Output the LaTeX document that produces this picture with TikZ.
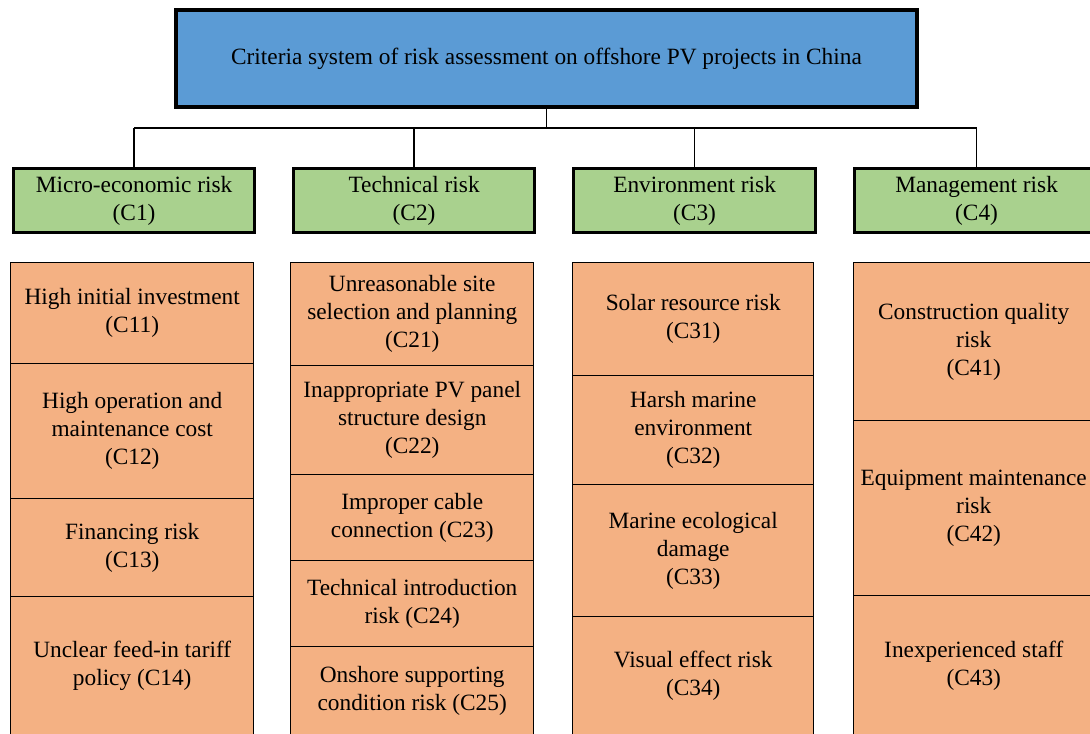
\documentclass[tikz,border=0pt]{standalone}
\usepackage{fontspec}
\setmainfont{Liberation Serif}
\definecolor{topblue}{HTML}{5B9BD5}
\definecolor{catgreen}{HTML}{A9D18E}
\definecolor{itemorange}{HTML}{F4B183}
\tikzset{
  x=0.75pt, y=-0.75pt,
  box/.style={draw=black, anchor=north west, align=center, inner sep=0pt,
    font=\fontsize{17.5}{21}\selectfont},
  topbox/.style={box, fill=topblue, line width=3pt},
  catbox/.style={box, fill=catgreen, line width=2.4pt},
  itembox/.style={box, fill=itemorange, line width=1.1pt},
  conn/.style={draw=black, line width=1.1pt}
}
\newcommand{\mkbox}[7]{%
  \node[#1, minimum width={(#5-#3)*0.75pt}, minimum height={(#6-#4)*0.75pt}]
    (#2) at (#3,#4) {#7};}
\begin{document}
\begin{tikzpicture}
\useasboundingbox (0,0) rectangle (1090,733);
\clip (0,0) rectangle (1090,733);
% title
\mkbox{topbox}{title}{174}{8}{915}{105}{Criteria system of risk assessment on offshore PV projects in China}
% categories
\mkbox{catbox}{c1}{12}{167}{253}{231}{Micro-economic risk\\(C1)}
\mkbox{catbox}{c2}{292}{167}{533}{231}{Technical risk\\(C2)}
\mkbox{catbox}{c3}{572}{167}{814}{231}{Environment risk\\(C3)}
\mkbox{catbox}{c4}{853}{167}{1097}{231}{Management risk\\(C4)}
% connectors
\coordinate (bar) at (0,128);
\draw[conn] (title.south) -- (title.south |- bar);
\draw[conn] (c1.north |- bar) -- (c4.north |- bar);
\draw[conn] (c1.north |- bar) -- (c1.north);
\draw[conn] (c2.north |- bar) -- (c2.north);
\draw[conn] (c3.north |- bar) -- (c3.north);
\draw[conn] (c4.north |- bar) -- (c4.north);
% column 1
\mkbox{itembox}{c11}{10}{262}{253}{363}{High initial investment\\(C11)}
\mkbox{itembox}{c12}{10}{363}{253}{498}{High operation and\\maintenance cost\\(C12)}
\mkbox{itembox}{c13}{10}{498}{253}{596}{Financing risk\\(C13)}
\mkbox{itembox}{c14}{10}{596}{253}{735}{Unclear feed-in tariff\\policy (C14)}
% column 2
\mkbox{itembox}{c21}{290}{262}{533}{365}{Unreasonable site\\selection and planning\\(C21)}
\mkbox{itembox}{c22}{290}{365}{533}{474}{Inappropriate PV panel\\structure design\\(C22)}
\mkbox{itembox}{c23}{290}{474}{533}{560}{Improper cable\\connection (C23)}
\mkbox{itembox}{c24}{290}{560}{533}{646}{Technical introduction\\risk (C24)}
\mkbox{itembox}{c25}{290}{646}{533}{735}{Onshore supporting\\condition risk (C25)}
% column 3
\mkbox{itembox}{c31}{572}{262}{813}{375}{Solar resource risk\\(C31)}
\mkbox{itembox}{c32}{572}{375}{813}{484}{Harsh marine\\environment\\(C32)}
\mkbox{itembox}{c33}{572}{484}{813}{616}{Marine ecological\\damage\\(C33)}
\mkbox{itembox}{c34}{572}{616}{813}{735}{Visual effect risk\\(C34)}
% column 4
\mkbox{itembox}{c41}{853}{262}{1093}{420}{Construction quality\\risk\\(C41)}
\mkbox{itembox}{c42}{853}{420}{1093}{595}{Equipment maintenance\\risk\\(C42)}
\mkbox{itembox}{c43}{853}{595}{1093}{735}{Inexperienced staff\\(C43)}
\end{tikzpicture}
\end{document}
